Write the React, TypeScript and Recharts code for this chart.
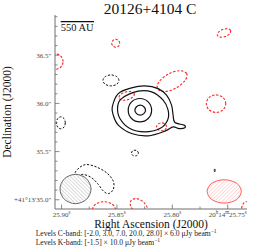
import React from 'react';
import { ScatterChart, Scatter, XAxis, YAxis } from 'recharts';

type Pair = [number, number];

// RA in seconds (20h14m..s), Dec in arcsec (+41°13'..")
const raDomain: [number, number] = [25.7326, 25.9059];
const decDomain: [number, number] = [34.904, 36.918];

const raTicks = [25.75, 25.775, 25.8, 25.825, 25.85, 25.875, 25.9];
const raMajorTicks = [25.9, 25.85, 25.8, 25.75];
const raTickLabels = ['25.90^s', '25.85^s', '25.80^s', '20^h14^m25.75^s'];

const decTicks = [35.0, 35.1, 35.2, 35.3, 35.4, 35.5, 35.6, 35.7, 35.8, 35.9, 36.0, 36.1, 36.2, 36.3, 36.4, 36.5, 36.6, 36.7, 36.8, 36.9];
const decMajorTicks = [35.0, 35.5, 36.0, 36.5];
const decTickLabels = ['+41°13′35.0″', '35.5″', '36.0″', '36.5″'];

const cBandLevels = [-2.0, 3.0, 7.0, 20.0, 28.0];
const cBandRms = 6.0;
const kBandLevels = [-1.5];
const kBandRms = 10.0;

// C-band positive contours (3, 7, 20, 28 sigma)
const cBand3: Pair[] = [[25.8542, 35.964], [25.8488, 36.102], [25.8368, 36.161], [25.8248, 36.182], [25.8128, 36.154], [25.8052, 36.085], [25.8007, 35.982], [25.7993, 35.878], [25.7977, 35.802], [25.7894, 35.775], [25.7887, 35.747], [25.7941, 35.739], [25.7993, 35.757], [25.8068, 35.712], [25.8218, 35.664], [25.8368, 35.688], [25.8488, 35.775], [25.8533, 35.878]];
const cBand7: Pair[] = [[25.8494, 35.964], [25.8458, 36.050], [25.8308, 36.127], [25.8187, 36.120], [25.8083, 36.034], [25.8038, 35.930], [25.8043, 35.826], [25.8113, 35.739], [25.8248, 35.705], [25.8383, 35.739], [25.8473, 35.843]];
const cBand20: Pair[] = [[25.8187, 35.930], [25.8218, 36.016], [25.8293, 36.051], [25.8368, 36.016], [25.8398, 35.930], [25.8368, 35.844], [25.8293, 35.809], [25.8218, 35.844]];
const cBand28: Pair[] = [[25.8242, 35.930], [25.8257, 35.966], [25.8290, 35.982], [25.8323, 35.966], [25.8338, 35.930], [25.8323, 35.894], [25.8290, 35.878], [25.8257, 35.894]];
const cBandSpeck: Pair[] = [[25.7613, 35.304], [25.7617, 35.320], [25.7622, 35.304], [25.7617, 35.289]];

// C-band negative contours (-2 sigma)
const cNegA: Pair[] = [[25.8482, 36.239], [25.8503, 36.279], [25.8554, 36.296], [25.8605, 36.279], [25.8626, 36.239], [25.8605, 36.198], [25.8554, 36.182], [25.8503, 36.198]];
const cNegB: Pair[] = [[25.8966, 35.798], [25.8977, 35.842], [25.9006, 35.861], [25.9035, 35.842], [25.9047, 35.798], [25.9035, 35.755], [25.9006, 35.736], [25.8977, 35.755]];
const cNegC: Pair[] = [[25.8306, 35.484], [25.8322, 35.511], [25.8354, 35.511], [25.8369, 35.484], [25.8354, 35.458], [25.8322, 35.458]];
const cNegD: Pair[] = [[25.8878, 35.280], [25.8833, 35.339], [25.8773, 35.366], [25.8683, 35.339], [25.8593, 35.280], [25.8533, 35.194], [25.8533, 35.107], [25.8578, 35.063], [25.8623, 35.091], [25.8668, 35.159], [25.8728, 35.228], [25.8804, 35.263], [25.8863, 35.246]];

// K-band negative contours (-1.5 sigma)
const kNegA: Pair[] = [[25.8475, 36.624], [25.8486, 36.653], [25.8511, 36.666], [25.8536, 36.653], [25.8547, 36.624], [25.8536, 36.595], [25.8511, 36.583], [25.8486, 36.595]];
const kNegB: Pair[] = [[25.7474, 36.756], [25.7500, 36.775], [25.7545, 36.768], [25.7584, 36.739], [25.7593, 36.706], [25.7567, 36.688], [25.7522, 36.694], [25.7483, 36.723]];
const kNegC: Pair[] = [[25.7871, 36.311], [25.7934, 36.340], [25.8036, 36.305], [25.8119, 36.226], [25.8134, 36.152], [25.8072, 36.123], [25.7969, 36.158], [25.7886, 36.237]];
const kNegD: Pair[] = [[25.7518, 35.997], [25.7543, 36.062], [25.7605, 36.089], [25.7668, 36.062], [25.7693, 35.997], [25.7668, 35.933], [25.7605, 35.906], [25.7543, 35.933]];
const kNegE: Pair[] = [[25.8986, 36.434], [25.9006, 36.490], [25.9054, 36.513], [25.9102, 36.490], [25.9122, 36.434], [25.9102, 36.378], [25.9054, 36.354], [25.9006, 36.378]];
const kNegF: Pair[] = [[25.8343, 36.100], [25.8370, 36.122], [25.8422, 36.119], [25.8468, 36.092], [25.8482, 36.056], [25.8455, 36.035], [25.8404, 36.038], [25.8357, 36.065]];
const kNegG: Pair[] = [[25.8052, 35.757], [25.8066, 35.786], [25.8097, 35.798], [25.8129, 35.786], [25.8142, 35.757], [25.8129, 35.728], [25.8097, 35.716], [25.8066, 35.728]];
const kNegH: Pair[] = [[25.8514, 34.897], [25.8544, 34.956], [25.8617, 34.980], [25.8690, 34.956], [25.8721, 34.897], [25.8690, 34.838], [25.8617, 34.814], [25.8544, 34.838]];
const kNegI: Pair[] = [[25.8232, 34.862], [25.8279, 34.844], [25.8340, 34.876], [25.8377, 34.938], [25.8371, 34.994], [25.8324, 35.012], [25.8264, 34.980], [25.8226, 34.918]];
const kNegJ: Pair[] = [[25.7284, 34.907], [25.7297, 34.959], [25.7329, 34.980], [25.7360, 34.959], [25.7374, 34.907], [25.7360, 34.855], [25.7329, 34.835], [25.7297, 34.855]];

// Beams
const cBeam: Pair[] = [[25.8734, 35.111], [25.8775, 35.219], [25.8874, 35.264], [25.8973, 35.219], [25.9014, 35.111], [25.8973, 35.004], [25.8874, 34.959], [25.8775, 35.004]];
const kBeam: Pair[] = [[25.7377, 35.087], [25.7422, 35.173], [25.7532, 35.208], [25.7641, 35.173], [25.7686, 35.087], [25.7641, 35.000], [25.7532, 34.965], [25.7422, 35.000]];

const SERIF = "'Liberation Serif', 'DejaVu Serif', serif";
const FRAME = '#6e6e6e';
const TICK_TEXT = '#4a4a4a';
const RED = '#ff2020';
const PLOT = { left: 55, right: 247, top: 15, bottom: 209 };

const toPts = (a: Pair[]) => a.map(([ra, dec]) => ({ ra, dec }));

function closedPath(pts: { x: number; y: number }[]) {
  const n = pts.length;
  if (!pts || n < 3) return '';
  let d = `M${pts[0].x},${pts[0].y}`;
  for (let i = 0; i < n; i++) {
    const p0 = pts[(i - 1 + n) % n];
    const p1 = pts[i];
    const p2 = pts[(i + 1) % n];
    const p3 = pts[(i + 2) % n];
    const c1x = p1.x + (p2.x - p0.x) / 6;
    const c1y = p1.y + (p2.y - p0.y) / 6;
    const c2x = p2.x - (p3.x - p1.x) / 6;
    const c2y = p2.y - (p3.y - p1.y) / 6;
    d += ` C${c1x},${c1y} ${c2x},${c2y} ${p2.x},${p2.y}`;
  }
  return d + ' Z';
}

const contourLine = (stroke: string, width: number, dash?: string, fill: string = 'none') => (props: any) => (
  <path d={closedPath(props.points)} fill={fill} stroke={stroke} strokeWidth={width} strokeDasharray={dash} strokeLinejoin="round" />
);

function richText(s: string, size: number) {
  const parts: React.ReactNode[] = [];
  const re = /\^\{([^}]*)\}|\^(.)|([^^]+)/g;
  let m: RegExpExecArray | null;
  let raised = false;
  let k = 0;
  const shift = size * 0.38;
  while ((m = re.exec(s))) {
    const sup = m[1] !== undefined ? m[1] : m[2];
    if (sup !== undefined) {
      parts.push(<tspan key={k++} dy={raised ? 0 : -shift} fontSize={size * 0.72}>{sup}</tspan>);
      raised = true;
    } else {
      parts.push(<tspan key={k++} dy={raised ? shift : 0}>{m[3]}</tspan>);
      raised = false;
    }
  }
  return parts;
}

const isIn = (arr: number[], v: number) => arr.findIndex((m) => Math.abs(m - v) < 1e-6);

const BottomTick = (props: any) => {
  const { x, payload } = props;
  const i = isIn(raMajorTicks, payload.value);
  const len = i >= 0 ? 4.5 : 2.5;
  return (
    <g>
      <line x1={x} x2={x} y1={PLOT.bottom} y2={PLOT.bottom - len} stroke={FRAME} strokeWidth={0.8} />
      {i >= 0 && (
        <text x={x} y={PLOT.bottom + 8} textAnchor="middle" fontSize={7} fill={TICK_TEXT} fontFamily={SERIF}>
          {richText(raTickLabels[i], 7)}
        </text>
      )}
    </g>
  );
};

const TopTick = (props: any) => {
  const { x, payload } = props;
  const len = isIn(raMajorTicks, payload.value) >= 0 ? 4.5 : 2.5;
  return <line x1={x} x2={x} y1={PLOT.top} y2={PLOT.top + len} stroke={FRAME} strokeWidth={0.8} />;
};

const LeftTick = (props: any) => {
  const { y, payload } = props;
  const i = isIn(decMajorTicks, payload.value);
  const len = i >= 0 ? 4.5 : 2.5;
  return (
    <g>
      <line x1={PLOT.left} x2={PLOT.left + len} y1={y} y2={y} stroke={FRAME} strokeWidth={0.8} />
      {i >= 0 && (
        <text x={PLOT.left - 3.5} y={y + 2.4} textAnchor="end" fontSize={7} fill={TICK_TEXT} fontFamily={SERIF}>
          {decTickLabels[i]}
        </text>
      )}
    </g>
  );
};

const RightTick = (props: any) => {
  const { y, payload } = props;
  const len = isIn(decMajorTicks, payload.value) >= 0 ? 4.5 : 2.5;
  return <line x1={PLOT.right} x2={PLOT.right - len} y1={y} y2={y} stroke={FRAME} strokeWidth={0.8} />;
};

const noShape = () => <g />;

type Series = { name: string; data: Pair[]; stroke: string; width: number; dash?: string; fill?: string };

const series: Series[] = [
  { name: 'kNegA', data: kNegA, stroke: RED, width: 1.1, dash: '2.4 1.6' },
  { name: 'kNegB', data: kNegB, stroke: RED, width: 1.1, dash: '2.4 1.6' },
  { name: 'kNegC', data: kNegC, stroke: RED, width: 1.1, dash: '2.4 1.6' },
  { name: 'kNegD', data: kNegD, stroke: RED, width: 1.1, dash: '2.4 1.6' },
  { name: 'kNegE', data: kNegE, stroke: RED, width: 1.1, dash: '2.4 1.6' },
  { name: 'kNegF', data: kNegF, stroke: RED, width: 1.1, dash: '2.4 1.6' },
  { name: 'kNegG', data: kNegG, stroke: RED, width: 1.1, dash: '2.4 1.6' },
  { name: 'kNegH', data: kNegH, stroke: RED, width: 1.1, dash: '2.4 1.6' },
  { name: 'kNegI', data: kNegI, stroke: RED, width: 1.1, dash: '2.4 1.6' },
  { name: 'kNegJ', data: kNegJ, stroke: RED, width: 1.1, dash: '2.4 1.6' },
  { name: 'cNegA', data: cNegA, stroke: '#111', width: 1.0, dash: '2.2 1.6' },
  { name: 'cNegB', data: cNegB, stroke: '#111', width: 1.0, dash: '2.2 1.6' },
  { name: 'cNegC', data: cNegC, stroke: '#111', width: 1.0, dash: '2.2 1.6' },
  { name: 'cNegD', data: cNegD, stroke: '#111', width: 1.0, dash: '2.2 1.6' },
  { name: 'cBand3', data: cBand3, stroke: '#111', width: 1.2 },
  { name: 'cBand7', data: cBand7, stroke: '#111', width: 1.2 },
  { name: 'cBand20', data: cBand20, stroke: '#111', width: 1.2 },
  { name: 'cBand28', data: cBand28, stroke: '#111', width: 1.2 },
  { name: 'cBandSpeck', data: cBandSpeck, stroke: '#111', width: 0.9 },
  { name: 'cBeam', data: cBeam, stroke: '#555', width: 0.9, fill: 'url(#hatchGray)' },
  { name: 'kBeam', data: kBeam, stroke: '#ff4a4a', width: 0.9, fill: 'url(#hatchRed)' },
];

const fmt = (v: number) => v.toFixed(1);
const cNote = `Levels C-band: [${cBandLevels.map(fmt).join(', ')}] × ${fmt(cBandRms)} μJy beam^{−1}`;
const kNote = `Levels K-band: [${kBandLevels.map(fmt).join(', ')}] × ${fmt(kBandRms)} μJy beam^{−1}`;

export default function App() {
  return (
    <div style={{ position: 'absolute', left: 0, top: 0, width: 264, height: 252, background: '#fff' }}>
      <svg width={0} height={0} style={{ position: 'absolute' }}>
        <defs>
          <pattern id="hatchGray" patternUnits="userSpaceOnUse" width={2.6} height={2.6} patternTransform="rotate(-45)">
            <rect width={2.6} height={2.6} fill="#fff" />
            <line x1={0} y1={0} x2={0} y2={2.6} stroke="#9a9a9a" strokeWidth={0.7} />
          </pattern>
          <pattern id="hatchRed" patternUnits="userSpaceOnUse" width={2.6} height={2.6} patternTransform="rotate(45)">
            <rect width={2.6} height={2.6} fill="#fff" />
            <line x1={0} y1={0} x2={0} y2={2.6} stroke="#ff9a9a" strokeWidth={0.7} />
          </pattern>
        </defs>
      </svg>
      <ScatterChart width={264} height={252} margin={{ top: PLOT.top, right: 264 - PLOT.right, bottom: 0, left: 0 }}>
        <XAxis xAxisId="b" orientation="bottom" type="number" dataKey="ra" domain={raDomain} reversed allowDataOverflow
          ticks={raTicks} interval={0} height={252 - PLOT.bottom} tickSize={0} tickMargin={0}
          axisLine={{ stroke: FRAME, strokeWidth: 1 }} tickLine={false} tick={(p: any) => <BottomTick {...p} />} />
        <XAxis xAxisId="t" orientation="top" type="number" dataKey="ra" domain={raDomain} reversed allowDataOverflow
          ticks={raTicks} interval={0} height={0} tickSize={0} tickMargin={0}
          axisLine={{ stroke: FRAME, strokeWidth: 1 }} tickLine={false} tick={(p: any) => <TopTick {...p} />} />
        <YAxis yAxisId="l" orientation="left" type="number" dataKey="dec" domain={decDomain} allowDataOverflow
          ticks={decTicks} interval={0} width={PLOT.left} tickSize={0} tickMargin={0}
          axisLine={{ stroke: FRAME, strokeWidth: 1 }} tickLine={false} tick={(p: any) => <LeftTick {...p} />} />
        <YAxis yAxisId="r" orientation="right" type="number" dataKey="dec" domain={decDomain} allowDataOverflow
          ticks={decTicks} interval={0} width={0} tickSize={0} tickMargin={0}
          axisLine={{ stroke: FRAME, strokeWidth: 1 }} tickLine={false} tick={(p: any) => <RightTick {...p} />} />
        {series.map((s) => (
          <Scatter key={s.name} name={s.name} xAxisId="b" yAxisId="l" data={toPts(s.data)} isAnimationActive={false}
            shape={noShape} legendType="none" lineType="joint"
            line={contourLine(s.stroke, s.width, s.dash, s.fill)} />
        ))}
      </ScatterChart>
      <svg width={264} height={252} style={{ position: 'absolute', left: 0, top: 0, pointerEvents: 'none' }}>
        <text x={150} y={13.5} textAnchor="middle" fontSize={15.5} fontFamily={SERIF} fill="#111">20126+4104 C</text>
        <line x1={60.7} x2={94} y1={21.7} y2={21.7} stroke="#111" strokeWidth={1.3} />
        <text x={60.7} y={31} fontSize={10.5} fontFamily={SERIF} fill="#111">550 AU</text>
        <text x={151} y={227.5} textAnchor="middle" fontSize={11.5} fontFamily={SERIF} fill="#111">Right Ascension (J2000)</text>
        <text x={0} y={0} transform="translate(10.5,112) rotate(-90)" textAnchor="middle" fontSize={11.5} fontFamily={SERIF} fill="#111">Declination (J2000)</text>
        <text x={35.7} y={235.8} fontSize={7.6} fontFamily={SERIF} fill="#222">{richText(cNote, 7.6)}</text>
        <text x={35.7} y={245.3} fontSize={7.6} fontFamily={SERIF} fill="#222">{richText(kNote, 7.6)}</text>
      </svg>
    </div>
  );
}
